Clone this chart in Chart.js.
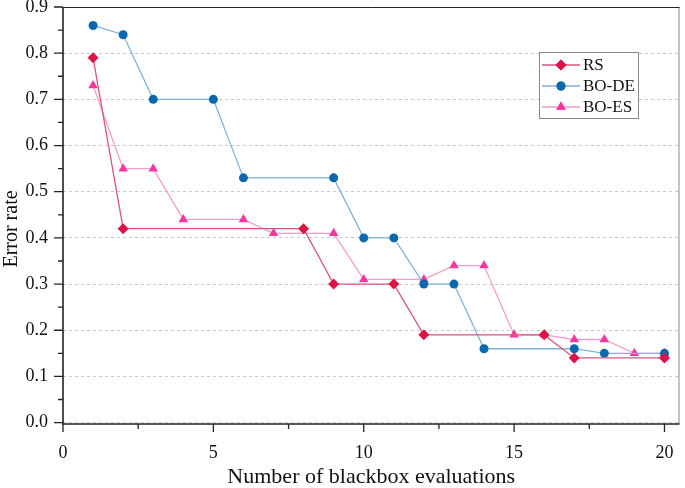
<!DOCTYPE html>
<html>
<head>
<meta charset="utf-8">
<script src="https://cdn.jsdelivr.net/npm/chart.js@4.4.1/dist/chart.umd.min.js"></script>
<style>
  html, body { margin: 0; padding: 0; background: #fff; }
  #wrap { width: 685px; height: 488px; position: relative; }
</style>
</head>
<body>
<div id="wrap"><canvas id="chart"></canvas></div>
<script>
// ── Data ────────────────────────────────────────────────────────────────
const RS_X = [1, 2, 8, 9, 11, 12, 16, 17, 20];
const RS_Y = [0.79, 0.42, 0.42, 0.30, 0.30, 0.19, 0.19, 0.14, 0.14];

const DE_X = [1, 2, 3, 5, 6, 9, 10, 11, 12, 13, 14, 17, 18, 20];
const DE_Y = [0.86, 0.84, 0.70, 0.70, 0.53, 0.53, 0.40, 0.40, 0.30, 0.30, 0.16, 0.16, 0.15, 0.15];

const ES_X = [1, 2, 3, 4, 6, 7, 9, 10, 12, 13, 14, 15, 16, 17, 18, 19, 20];
const ES_Y = [0.73, 0.55, 0.55, 0.44, 0.44, 0.41, 0.41, 0.31, 0.31, 0.34, 0.34, 0.19, 0.19, 0.18, 0.18, 0.15, 0.15];

const X_TICKS = [0, 5, 10, 15, 20];
const X_MINOR = [2.5, 7.5, 12.5, 17.5];
const Y_TICKS = [0, 0.1, 0.2, 0.3, 0.4, 0.5, 0.6, 0.7, 0.8, 0.9];
const Y_MINOR = [0.05, 0.15, 0.25, 0.35, 0.45, 0.55, 0.65, 0.75, 0.85];

const SERIES = [
  { label: "RS",    xs: RS_X, ys: RS_Y, line: "#d9557f", mark: "#dc1446", style: "rectRot",  r: 5.5 },
  { label: "BO-DE", xs: DE_X, ys: DE_Y, line: "#7fb2d4", mark: "#0b68ac", style: "circle",   r: 4.5 },
  { label: "BO-ES", xs: ES_X, ys: ES_Y, line: "#f39dca", mark: "#f5379e", style: "triangle", r: 5.5 },
];

const FONT = "'Liberation Serif', 'Times New Roman', serif";

// ── Frame, minor ticks, titles, legend ──────────────────────────────────
const decorPlugin = {
  id: "decor",
  afterDraw(chart) {
    const { ctx, chartArea: a, scales } = chart;
    const xs = scales.x, ys = scales.y;
    ctx.save();

    // frame
    ctx.strokeStyle = "#888";
    ctx.lineWidth = 1;
    ctx.beginPath();
    ctx.moveTo(a.right - 0.5, a.top);
    ctx.lineTo(a.right - 0.5, a.bottom);
    ctx.stroke();
    ctx.strokeStyle = "#222";
    ctx.beginPath();
    ctx.moveTo(a.left, a.top + 0.5);
    ctx.lineTo(a.right, a.top + 0.5);
    ctx.stroke();
    ctx.lineWidth = 1.6;
    ctx.beginPath();
    ctx.moveTo(a.left, a.top);
    ctx.lineTo(a.left, a.bottom);
    ctx.lineTo(a.right, a.bottom);
    ctx.stroke();

    // ticks
    ctx.lineWidth = 1.3;
    ctx.beginPath();
    Y_TICKS.forEach(v => { const y = ys.getPixelForValue(v); ctx.moveTo(a.left - 9, y); ctx.lineTo(a.left, y); });
    Y_MINOR.forEach(v => { const y = ys.getPixelForValue(v); ctx.moveTo(a.left - 5, y); ctx.lineTo(a.left, y); });
    X_TICKS.forEach(v => { const x = xs.getPixelForValue(v); ctx.moveTo(x, a.bottom); ctx.lineTo(x, a.bottom + 8); });
    X_MINOR.forEach(v => { const x = xs.getPixelForValue(v); ctx.moveTo(x, a.bottom); ctx.lineTo(x, a.bottom + 5); });
    ctx.stroke();

    // axis titles
    ctx.fillStyle = "#111";
    ctx.font = "22px " + FONT;
    ctx.textAlign = "center";
    ctx.textBaseline = "middle";
    ctx.fillText("Number of blackbox evaluations", (a.left + a.right) / 2, 477);
    ctx.translate(12, 229);
    ctx.rotate(-Math.PI / 2);
    ctx.font = "20px " + FONT;
    ctx.fillText("Error rate", 0, 0);
    ctx.restore();

    // legend
    ctx.save();
    ctx.fillStyle = "#fff";
    ctx.fillRect(539.5, 52.5, 99, 66);
    ctx.strokeStyle = "#888";
    ctx.lineWidth = 1;
    ctx.strokeRect(539.5, 52.5, 99, 66);
    ctx.font = "17px " + FONT;
    ctx.textAlign = "left";
    ctx.textBaseline = "middle";
    SERIES.forEach((s, i) => {
      const y = 65 + i * 21;
      ctx.strokeStyle = s.line;
      ctx.lineWidth = 1.3;
      ctx.beginPath();
      ctx.moveTo(542, y);
      ctx.lineTo(580, y);
      ctx.stroke();
      ctx.fillStyle = s.mark;
      Chart.helpers.drawPoint(ctx, { pointStyle: s.style, radius: s.r, rotation: 0, borderWidth: 0 }, 561, y);
      ctx.fill();
      ctx.fillStyle = "#111";
      ctx.fillText(s.label, 583, y + 1);
    });
    ctx.restore();
  }
};

// ── Chart ───────────────────────────────────────────────────────────────
new Chart(document.getElementById("chart"), {
  type: "line",
  data: {
    datasets: SERIES.map(s => ({
      label: s.label,
      data: s.xs.map((x, i) => ({ x: x, y: s.ys[i] })),
      borderColor: s.line,
      borderWidth: 1.3,
      backgroundColor: s.mark,
      pointBackgroundColor: s.mark,
      pointBorderColor: s.mark,
      pointBorderWidth: 0,
      pointStyle: s.style,
      pointRadius: s.r,
      tension: 0,
      fill: false,
    }))
  },
  options: {
    responsive: true,
    maintainAspectRatio: false,
    animation: false,
    layout: { padding: { top: 7, right: 1, left: 0, bottom: 0 } },
    plugins: { legend: { display: false }, tooltip: { enabled: false } },
    scales: {
      x: {
        type: "linear",
        min: 0,
        max: 20.5,
        afterBuildTicks: axis => { axis.ticks = X_TICKS.map(v => ({ value: v })); },
        afterFit: axis => { axis.height = 64; axis.paddingLeft = 0; axis.paddingRight = 0; },
        grid: { display: false, drawTicks: false },
        border: { display: false },
        ticks: { color: "#111", font: { family: FONT, size: 18 }, padding: 18, maxRotation: 0 },
      },
      y: {
        type: "linear",
        min: -0.003,
        max: 0.9,
        afterBuildTicks: axis => { axis.ticks = Y_TICKS.map(v => ({ value: v })); },
        afterFit: axis => { axis.width = 63; axis.paddingTop = 0; axis.paddingBottom = 0; },
        grid: { color: "#c8c8c8", lineWidth: 1, drawTicks: false },
        border: { display: false, dash: [3, 3] },
        ticks: { color: "#111", font: { family: FONT, size: 18 }, padding: 15, callback: v => v.toFixed(1) },
      }
    }
  },
  plugins: [decorPlugin]
});
</script>
</body>
</html>
